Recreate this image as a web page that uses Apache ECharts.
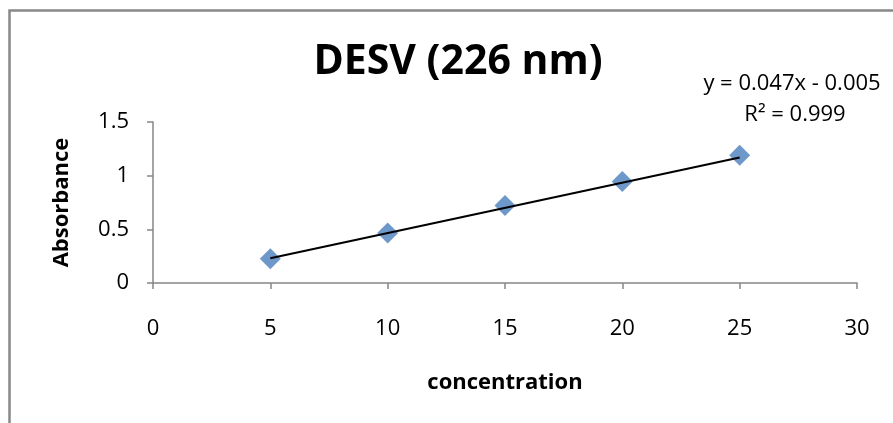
<!DOCTYPE html>
<html>
<head>
<meta charset="utf-8">
<script src="https://cdn.jsdelivr.net/npm/echarts@6/dist/echarts.min.js"></script>
<style>
  html, body { margin: 0; padding: 0; background: #fff; }
  #chart { width: 893px; height: 423px; }
</style>
</head>
<body>
<div id="chart"></div>
<script>
// Calibration data for DESV at 226 nm
const concentration = [5, 10, 15, 20, 25];
const absorbance = [0.226, 0.465, 0.722, 0.945, 1.19];

// Axis ticks
const xTicks = [0, 5, 10, 15, 20, 25, 30];
const yTicks = [0, 0.5, 1, 1.5];

// Linear fit reported on the chart
const slope = 0.047;
const intercept = -0.005;
const rSquared = 0.999;

const FONT = '"Open Sans", sans-serif';

const points = concentration.map((x, i) => [x, absorbance[i]]);
const xFirst = concentration[0];
const xLast = concentration[concentration.length - 1];
const fitLine = [
  [xFirst, slope * xFirst + intercept],
  [xLast, slope * xLast + intercept]
];

const eqText = 'y = ' + slope.toFixed(3) + 'x ' + (intercept < 0 ? '- ' : '+ ') + Math.abs(intercept).toFixed(3);
const r2Text = 'R² = ' + rSquared.toFixed(3);

const chart = echarts.init(document.getElementById('chart'), null, { renderer: 'canvas' });

const axisLine = { show: true, lineStyle: { color: '#868686', width: 1.5 } };

chart.setOption({
  animation: false,
  backgroundColor: '#ffffff',
  title: {
    text: 'DESV (226 nm)',
    left: 453,
    top: 37,
    textAlign: 'center',
    textStyle: { fontFamily: FONT, fontWeight: 'bold', fontSize: 41, color: '#000' }
  },
  grid: { left: 153, right: 36, top: 122, bottom: 140, containLabel: false },
  xAxis: {
    type: 'value',
    min: xTicks[0],
    max: xTicks[xTicks.length - 1],
    interval: xTicks[1] - xTicks[0],
    name: 'concentration',
    nameLocation: 'middle',
    nameGap: 89,
    nameTextStyle: { fontFamily: FONT, fontWeight: 'bold', fontSize: 22, color: '#000' },
    axisLine: axisLine,
    axisTick: { show: true, inside: false, length: 6, lineStyle: { color: '#868686', width: 1.5 } },
    axisLabel: { margin: 35, fontFamily: FONT, fontSize: 22, color: '#000' },
    splitLine: { show: false }
  },
  yAxis: {
    type: 'value',
    min: yTicks[0],
    max: yTicks[yTicks.length - 1],
    interval: yTicks[1] - yTicks[0],
    name: 'Absorbance',
    nameLocation: 'middle',
    nameGap: 80,
    nameRotate: 90,
    nameTextStyle: { fontFamily: FONT, fontWeight: 'bold', fontSize: 22, color: '#000' },
    axisLine: axisLine,
    axisTick: { show: true, inside: false, length: 6, lineStyle: { color: '#868686', width: 1.5 } },
    axisLabel: { margin: 24, fontFamily: FONT, fontSize: 22, color: '#000' },
    splitLine: { show: false }
  },
  series: [
    {
      name: 'Linear fit',
      type: 'line',
      data: fitLine,
      showSymbol: false,
      symbol: 'none',
      lineStyle: { color: '#000', width: 2 },
      z: 3
    },
    {
      name: 'Absorbance',
      type: 'scatter',
      data: points,
      symbol: 'diamond',
      symbolSize: 21,
      itemStyle: { color: '#4a7ebb' },
      z: 2
    }
  ],
  graphic: [
    {
      type: 'rect',
      shape: { x: 9.5, y: 10.5, width: 1000, height: 1000 },
      style: { fill: 'none', stroke: '#888888', lineWidth: 2.5 },
      silent: true
    },
    {
      type: 'text',
      x: 792,
      y: 84,
      style: {
        text: eqText,
        fontFamily: FONT, fontSize: 22, fill: '#000',
        textAlign: 'center', textVerticalAlign: 'middle'
      }
    },
    {
      type: 'text',
      x: 795,
      y: 115,
      style: {
        text: r2Text,
        fontFamily: FONT, fontSize: 22, fill: '#000',
        textAlign: 'center', textVerticalAlign: 'middle'
      }
    }
  ]
});
</script>
</body>
</html>
